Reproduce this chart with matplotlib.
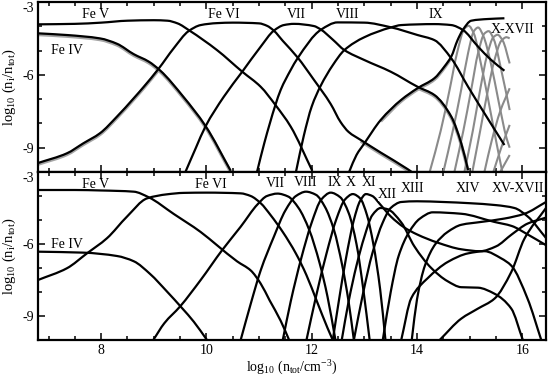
import matplotlib
matplotlib.use("Agg")
import matplotlib.pyplot as plt
from matplotlib.ticker import MultipleLocator, FixedLocator
from matplotlib.path import Path
from matplotlib.patches import PathPatch
import numpy as np

plt.rcParams['font.family'] = ['Liberation Serif', 'DejaVu Serif']
plt.rcParams['mathtext.fontset'] = 'custom'
plt.rcParams['mathtext.rm'] = 'Liberation Serif'
plt.rcParams['mathtext.it'] = 'Liberation Serif:italic'
plt.rcParams['axes.unicode_minus'] = False

# ---------------- top panel (log10 density, log10 ion fraction) -------------
top_fe4_x = [6.8, 7.35, 7.98, 8.3, 8.62, 8.9, 9.12, 9.56, 9.98, 10.46]
top_fe4_y = [-4.29, -4.36, -4.5, -4.72, -5.15, -5.45, -5.82, -6.9, -8.1, -9.95]
top_fe5_x = [6.8, 7.5, 8.0, 8.5, 9.0, 9.26, 9.45, 9.68, 10.2, 10.68, 11.03, 11.31, 11.6, 12.01]
top_fe5_y = [-3.92, -3.9, -3.85, -3.77, -3.75, -3.77, -3.88, -4.18, -4.98, -5.87, -6.49, -7.24, -8.13, -9.95]
top_fe6_x = [6.8, 7.35, 7.66, 7.98, 8.3, 8.62, 8.81, 9.09, 9.38, 9.66, 9.89, 10.2, 10.5, 11.0, 11.15,
             11.28, 11.45, 11.73, 12.04, 12.36, 12.55, 12.7, 12.93, 13.31, 13.82, 13.9]
top_fe6_y = [-9.63, -9.23, -8.82, -8.4, -7.72, -6.96, -6.49, -5.75, -4.9, -4.2, -3.95, -3.87, -3.85, -3.88, -3.98,
             -4.18, -4.6, -5.28, -6.2, -7.2, -7.95, -8.35, -8.68, -9.2, -9.88, -10.0]
top_fe7_x = [9.6, 9.8, 9.98, 10.33, 10.68, 11.03, 11.28, 11.47, 11.66, 12.04, 12.17, 12.4, 12.62, 13.0,
             13.5, 14.01, 14.33, 14.65, 14.84, 14.97]
top_fe7_y = [-10.0, -9.0, -8.13, -6.9, -5.87, -4.84, -4.18, -3.95, -3.9, -3.99, -4.13, -4.55, -4.98, -5.39,
             -5.87, -6.49, -6.83, -7.72, -8.82, -9.92]
top_fe8_x = [10.96, 11.1, 11.31, 11.41, 11.6, 11.73, 12.17, 12.49, 13.0, 13.5, 14.01, 14.33, 14.65, 14.97, 15.28, 15.66]
top_fe8_y = [-10.0, -8.8, -7.24, -6.62, -5.8, -5.32, -4.15, -3.84, -3.85, -4.04, -4.36, -4.57, -5.32, -6.49, -7.58, -8.89]
top_fe9_x = [11.7, 11.85, 12.0, 12.17, 12.4, 12.62, 13.0, 13.5, 13.7, 14.33, 14.65, 14.87, 15.16, 15.41, 15.66]
top_fe9_y = [-10.0, -8.5, -7.3, -6.45, -5.6, -4.98, -4.45, -4.05, -3.95, -3.91, -3.95, -4.15, -4.84, -5.39, -5.83]
top_fe10_x = [12.71, 12.85, 13.0, 13.31, 13.7, 14.01, 14.33, 14.52, 14.65, 14.77, 14.87, 15.03, 15.35, 15.66]
top_fe10_y = [-10.0, -9.3, -8.82, -7.86, -7.03, -6.55, -6.14, -5.66, -5.25, -4.57, -4.15, -3.77, -3.7, -3.67]

# grey family X-XVII (second calculation)
grey_x = [
    [14.24, 14.45, 14.62, 14.76, 14.9, 14.98, 15.08, 15.2, 15.35, 15.5, 15.62],
    [14.5, 14.68, 14.84, 14.97, 15.08, 15.16, 15.26, 15.4, 15.55, 15.7, 15.76],
    [14.71, 14.88, 15.03, 15.16, 15.28, 15.36, 15.46, 15.6, 15.76],
    [14.9, 15.06, 15.2, 15.33, 15.45, 15.53, 15.63, 15.76],
    [15.05, 15.2, 15.34, 15.47, 15.6, 15.7, 15.76],
    [15.28, 15.42, 15.58, 15.76],
    [15.45, 15.6, 15.76],
    [15.58, 15.76],
]
grey_y = [
    [-10.0, -8.3, -6.6, -5.1, -4.1, -3.98, -4.3, -5.4, -7.0, -8.7, -10.0],
    [-10.0, -8.3, -6.6, -5.1, -4.2, -4.05, -4.4, -5.5, -7.1, -8.6, -9.0],
    [-10.0, -8.3, -6.6, -5.1, -4.3, -4.2, -4.55, -5.8, -7.45],
    [-10.0, -8.3, -6.6, -5.2, -4.45, -4.35, -4.6, -5.53],
    [-10.0, -8.3, -6.7, -5.4, -4.6, -4.45, -4.5],
    [-10.0, -8.7, -7.5, -6.55],
    [-10.0, -9.0, -8.06],
    [-10.0, -9.3],
]

# ---------------- bottom panel ----------------
bot_fe4_x = [6.8, 7.66, 8.3, 8.62, 8.93, 9.25, 9.54, 9.76, 10.01]
bot_fe4_y = [-6.32, -6.36, -6.5, -6.72, -7.25, -7.98, -8.68, -9.24, -10.0]
bot_fe5_x = [6.8, 7.5, 8.0, 8.62, 8.9, 9.38, 9.89, 10.2, 10.58, 10.84, 11.03, 11.2, 11.41, 11.57]
bot_fe5_y = [-3.75, -3.75, -3.77, -3.82, -4.05, -4.75, -5.5, -6.05, -6.72, -7.1, -7.65, -8.35, -9.2, -10.0]
bot_fe6_x = [6.8, 7.35, 7.73, 8.11, 8.49, 8.87, 9.25, 9.57, 10.0, 10.65, 10.84, 11.03, 11.22, 11.45, 11.7,
             11.9, 12.1, 12.3, 12.4]
bot_fe6_y = [-7.5, -7.01, -6.39, -5.76, -4.86, -4.1, -3.93, -3.87, -3.86, -3.89, -4.0, -4.3, -4.8, -5.5, -6.4,
             -7.3, -8.4, -9.5, -10.0]
bot_fe7_x = [8.99, 9.2, 9.5, 9.89, 10.3, 10.65, 10.97, 11.15, 11.35, 11.55, 11.75, 11.95, 12.15, 12.3, 12.45]
bot_fe7_y = [-10.0, -9.3, -8.6, -7.5, -6.25, -5.28, -4.35, -4.0, -3.9, -4.02, -4.5, -5.4, -6.8, -8.2, -10.0]
bot_fe8_x = [10.65, 10.84, 11.03, 11.28, 11.5, 11.7, 11.89, 12.08, 12.25, 12.42, 12.58, 12.7, 12.8]
bot_fe8_y = [-10.0, -8.5, -7.1, -5.7, -4.6, -4.0, -3.82, -3.95, -4.45, -5.4, -6.9, -8.4, -10.0]
bot_fe9_x = [11.45, 11.6, 11.8, 12.0, 12.18, 12.36, 12.54, 12.7, 12.85, 12.98, 13.1]
bot_fe9_y = [-10.0, -8.4, -6.6, -5.1, -4.15, -3.86, -4.05, -4.7, -6.0, -7.9, -10.0]
bot_fe10_x = [11.9, 12.08, 12.28, 12.47, 12.63, 12.78, 12.92, 13.05, 13.17, 13.3, 13.4]
bot_fe10_y = [-10.0, -8.2, -6.4, -4.95, -4.15, -3.92, -4.1, -4.8, -6.0, -7.9, -10.0]
bot_fe11_x = [12.4, 12.52, 12.65, 12.8, 12.92, 13.03, 13.15, 13.3, 13.5, 13.75, 14.0, 14.4, 14.84,
              15.2, 15.5, 15.8, 16.1, 16.45]
bot_fe11_y = [-10.0, -8.3, -6.6, -5.0, -4.2, -3.92, -4.0, -4.35, -4.85, -5.3, -5.6, -5.95, -6.22,
              -6.3, -6.1, -5.6, -5.15, -4.9]
bot_fe12_x = [12.57, 12.7, 12.85, 13.0, 13.15, 13.31, 13.44, 13.7, 13.95, 14.27, 14.58, 14.84, 15.16,
              15.47, 15.79, 16.01]
bot_fe12_y = [-10.0, -8.4, -6.9, -5.7, -4.8, -4.5, -4.55, -5.1, -6.1, -7.0, -7.55, -7.8, -7.82,
              -8.07, -8.69, -10.0]
bot_fe13_x = [12.8, 12.98, 13.15, 13.35, 13.5, 13.7, 14.0, 14.5, 15.0, 15.5, 15.85, 16.1, 16.45]
bot_fe13_y = [-10.0, -8.0, -6.4, -5.1, -4.5, -4.25, -4.22, -4.25, -4.3, -4.38, -4.5, -4.85, -5.75]
bot_fe14_x = [13.35, 13.5, 13.65, 13.85, 14.05, 14.3, 14.84, 15.47, 15.8, 16.1, 16.45]
bot_fe14_y = [-10.0, -8.0, -6.5, -5.5, -4.95, -4.68, -4.74, -5.08, -5.25, -5.6, -6.05]
bot_fe15_x = [13.7, 13.89, 14.2, 14.59, 14.97, 15.28, 15.6, 15.79, 16.1, 16.36]
bot_fe15_y = [-10.0, -8.26, -7.43, -6.74, -6.39, -6.3, -6.6, -6.9, -8.28, -10.0]
bot_fe16_x = [13.9, 14.0, 14.15, 14.35, 14.58, 14.84, 15.22, 15.66, 16.04, 16.45]
bot_fe16_y = [-10.0, -8.3, -6.9, -6.0, -5.5, -5.2, -5.08, -4.94, -4.74, -4.25]
bot_fe17_x = [14.43, 14.84, 15.15, 15.47, 15.79, 16.04, 16.45]
bot_fe17_y = [-10.0, -9.11, -8.7, -8.28, -7.17, -5.78, -4.5]

top_labels = [("Fe V", 7.89, -3.53), ("Fe IV", 7.35, -5.0), ("Fe VI", 10.33, -3.53),
              ("VII", 11.7, -3.53), ("VIII", 12.68, -3.53), ("IX", 14.36, -3.53),
              ("X-XVII", 15.82, -4.12)]
bot_labels = [("Fe V", 7.89, -3.5), ("Fe IV", 7.35, -6.01), ("Fe VI", 10.08, -3.5),
              ("VII", 11.3, -3.47), ("VIII", 11.89, -3.45), ("IX", 12.43, -3.45),
              ("X", 12.74, -3.45), ("XI", 13.09, -3.45), ("XII", 13.44, -3.93),
              ("XIII", 13.92, -3.68), ("XIV", 14.97, -3.68), ("XV-XVII", 15.92, -3.68)]
xticks = [8, 10, 12, 14, 16]
yticks = [-3, -6, -9]


def slopes(x, y):
    """Monotone (Fritsch-Butland) tangents used for Bezier control points."""
    x = np.asarray(x, float); y = np.asarray(y, float)
    h = np.diff(x); d = np.diff(y) / h
    n = len(x)
    m = np.zeros(n)
    if n == 2:
        m[:] = d[0]
        return m
    for i in range(1, n - 1):
        if d[i - 1] * d[i] <= 0:
            m[i] = 0.0
        else:
            w1 = 2 * h[i] + h[i - 1]; w2 = h[i] + 2 * h[i - 1]
            m[i] = (w1 + w2) / (w1 / d[i - 1] + w2 / d[i])
    m[0] = d[0]; m[-1] = d[-1]
    return m


def curve(ax, x, y, dy=0.0, **kw):
    x = np.asarray(x, float); y = np.asarray(y, float) + dy
    m = slopes(x, y)
    verts = [(x[0], y[0])]
    codes = [Path.MOVETO]
    for i in range(len(x) - 1):
        h = x[i + 1] - x[i]
        verts += [(x[i] + h / 3, y[i] + m[i] * h / 3),
                  (x[i + 1] - h / 3, y[i + 1] - m[i + 1] * h / 3),
                  (x[i + 1], y[i + 1])]
        codes += [Path.CURVE4] * 3
    p = PathPatch(Path(verts, codes), fill=False, transform=ax.transData, **kw)
    ax.add_patch(p)
    return p


fig = plt.figure(figsize=(5.48, 3.77), dpi=100)
L, R = 38 / 548, 546 / 548
ax1 = fig.add_axes([L, 1 - 172 / 377, R - L, 170 / 377])
ax2 = fig.add_axes([L, 1 - 340 / 377, R - L, 168 / 377])

LW = 1.6
K = 'black'
GREY = '#8a8a8a'


def shadow(ax, x, y, lo, hi):
    x = np.asarray(x); y = np.asarray(y)
    m = (x >= lo) & (x <= hi)
    curve(ax, x[m], y[m], dy=-0.05, edgecolor='#a5a5a5', lw=2.4, zorder=2)


shadow(ax1, top_fe4_x, top_fe4_y, 6.8, 11)
shadow(ax1, top_fe6_x, top_fe6_y, 6.8, 9.2)
shadow(ax1, top_fe6_x, top_fe6_y, 12.9, 14)
shadow(ax1, top_fe7_x, top_fe7_y, 13.7, 15)
shadow(ax1, top_fe10_x, top_fe10_y, 13.3, 14.7)

for gx, gy in zip(grey_x, grey_y):
    curve(ax1, gx, gy, edgecolor=GREY, lw=1.5, zorder=2)

for x, y in [(top_fe4_x, top_fe4_y), (top_fe5_x, top_fe5_y), (top_fe6_x, top_fe6_y),
             (top_fe7_x, top_fe7_y), (top_fe8_x, top_fe8_y), (top_fe9_x, top_fe9_y),
             (top_fe10_x, top_fe10_y)]:
    curve(ax1, x, y, edgecolor=K, lw=LW, zorder=3)

for x, y in [(bot_fe4_x, bot_fe4_y), (bot_fe5_x, bot_fe5_y), (bot_fe6_x, bot_fe6_y),
             (bot_fe7_x, bot_fe7_y), (bot_fe8_x, bot_fe8_y), (bot_fe9_x, bot_fe9_y),
             (bot_fe10_x, bot_fe10_y), (bot_fe11_x, bot_fe11_y), (bot_fe12_x, bot_fe12_y),
             (bot_fe13_x, bot_fe13_y), (bot_fe14_x, bot_fe14_y), (bot_fe15_x, bot_fe15_y),
             (bot_fe16_x, bot_fe16_y), (bot_fe17_x, bot_fe17_y)]:
    curve(ax2, x, y, edgecolor=K, lw=LW, zorder=3)

for t, x, y in top_labels:
    ax1.text(x, y, t, ha='center', va='center', fontsize=10, zorder=5)
for t, x, y in bot_labels:
    ax2.text(x, y, t, ha='center', va='center', fontsize=10, zorder=5,
             bbox=dict(facecolor='white', edgecolor='none', pad=0.3) if t in ("XII",) else None)

for ax in (ax1, ax2):
    ax.set_xlim(6.8, 16.45)
    ax.set_ylim(-10, -3)
    ax.xaxis.set_major_locator(FixedLocator(xticks))
    ax.xaxis.set_minor_locator(MultipleLocator(0.5))
    ax.yaxis.set_major_locator(FixedLocator(yticks))
    ax.yaxis.set_minor_locator(MultipleLocator(1))
    ax.tick_params(which='both', direction='in', top=True, right=True, labelsize=10, width=1.1, pad=3)
    ax.tick_params(which='major', length=5)
    ax.tick_params(which='minor', length=3)
    for s in ax.spines.values():
        s.set_linewidth(1.6)
    ax.set_ylabel(r"log$_{10}$ (n$_{\rm i}$/n$_{\rm tot}$)", fontsize=10.5, labelpad=3)
    ax.set_yticklabels([str(v) for v in yticks])
    ax.yaxis.get_major_ticks()[0].label1.set_va('top')

ax1.tick_params(labelbottom=False)
ax2.set_xticklabels([str(v) for v in xticks])
ax2.set_xlabel(r"log$_{10}$ (n$_{\rm tot}$/cm$^{-3}$)", fontsize=10, labelpad=1)

fig.savefig("out.png", dpi=100)
